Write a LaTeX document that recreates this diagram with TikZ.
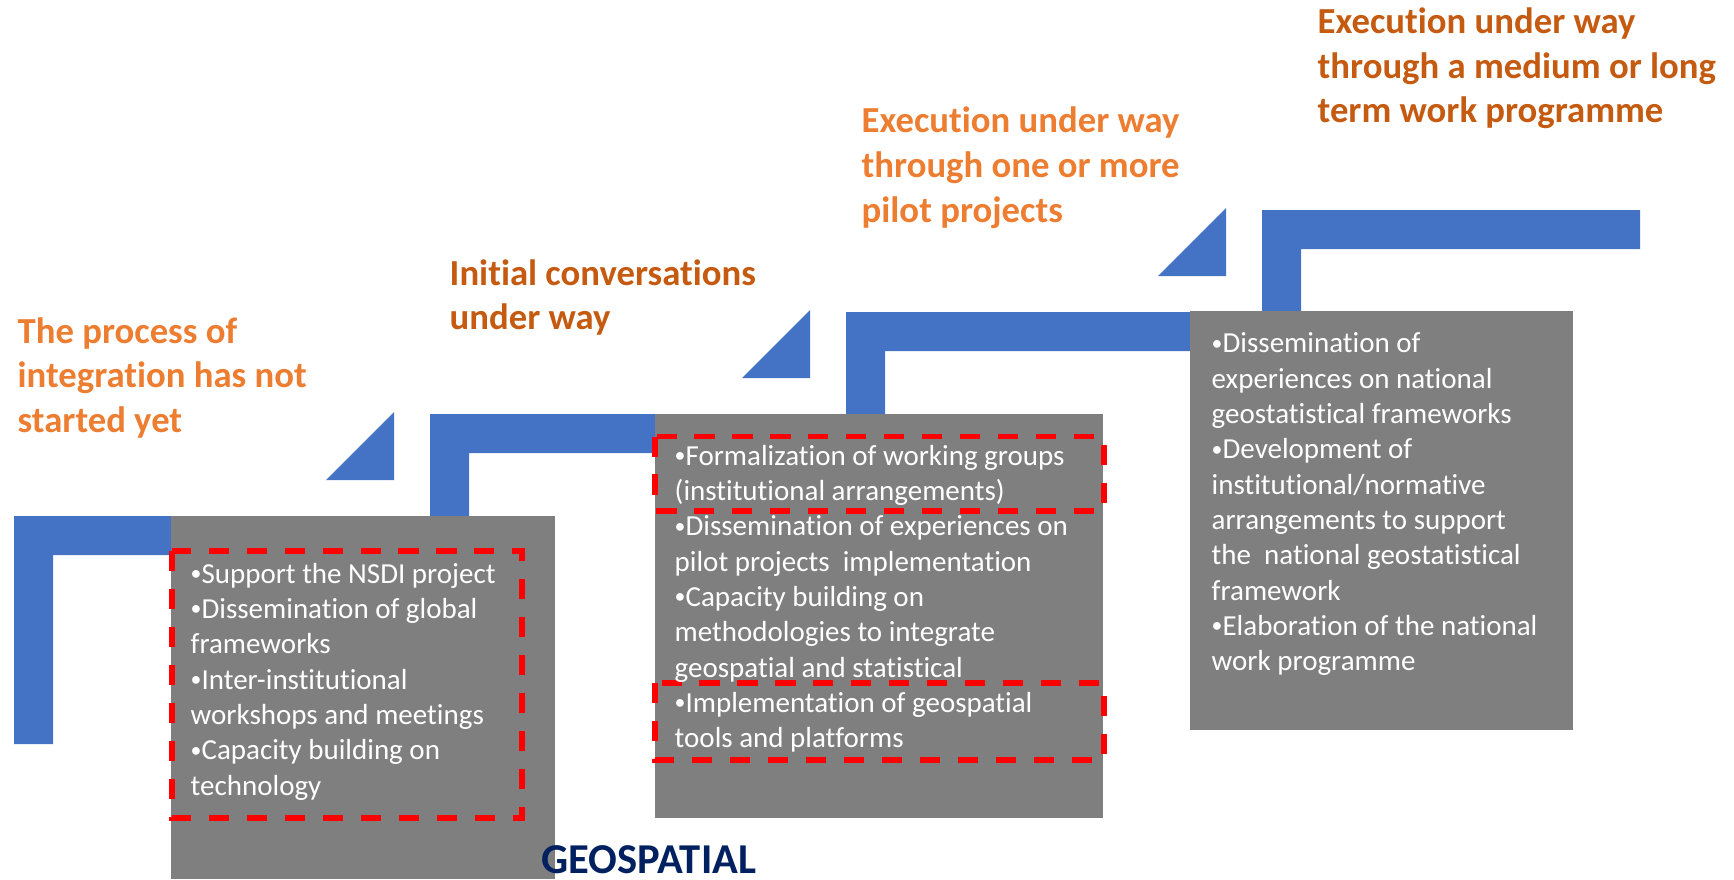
\documentclass[tikz,border=0pt]{standalone}
\usepackage{fontspec}
\setmainfont{Carlito}[Ligatures=NoCommon]
\definecolor{stairblue}{HTML}{4472C4}
\definecolor{panelgrey}{HTML}{7F7F7F}
\definecolor{frame}{HTML}{FF0000}
\definecolor{orangeA}{HTML}{ED7D31}
\definecolor{orangeB}{HTML}{C55A11}
\definecolor{navy}{HTML}{002060}
% rows of text, first row on the node's baseline
\newcommand{\stacklines}[1]{\begin{tabular}[t]{@{}l@{}}#1\end{tabular}}
% small list bullet
\newcommand{\itemdot}{\raisebox{0.7pt}{\fontsize{6.2}{7}\selectfont•}}
\begin{document}
\begin{tikzpicture}[x=0.01cm,y=-0.01cm,
  stair/.style={fill=stairblue},
  panel/.style={fill=panelgrey},
  redframe/.style={draw=frame,line width=1.55pt,dash pattern=on 5.7pt off 5.1pt},
  stage/.style={anchor=base west,inner sep=0pt,font=\fontsize{10.44}{12.7}\selectfont\bfseries},
  itemtext/.style={anchor=base west,inner sep=0pt,text=white,font=\fontsize{8.25}{10.05}\selectfont}]
\useasboundingbox (0,0) rectangle (1734,879);

% staircase
\fill[stair] (14,744) -- (14,516) -- (394,516) -- (394,555) -- (53,555) -- (53,744) -- cycle;
\fill[stair] (430,560) -- (430,414) -- (810,414) -- (810,453) -- (469,453) -- (469,560) -- cycle;
\fill[stair] (846,420) -- (846,312) -- (1226,312) -- (1226,351) -- (885,351) -- (885,420) -- cycle;
\fill[stair] (1262,320) -- (1262,210) -- (1640,210) -- (1640,249) -- (1301,249) -- (1301,320) -- cycle;
% wedges between the steps
\fill[stair] (326,480) -- (394,480) -- (394,412) -- cycle;
\fill[stair] (742,378) -- (810,378) -- (810,310) -- cycle;
\fill[stair] (1158,276) -- (1226,276) -- (1226,208) -- cycle;

% grey panels
\fill[panel] (171,516) rectangle (555,879);
\fill[panel] (655,414) rectangle (1103,818);
\fill[panel] (1190,311) rectangle (1573,730);

% highlighted groups
\draw[redframe] (172,551) rectangle (522,818);
\draw[redframe] (655,436.5) rectangle (1104,511);
\draw[redframe] (655,683) rectangle (1104,760);

% stage titles
\node[stage,text=orangeA] (s1) at (17,343) {\stacklines{The process of\\integration has not\\started yet}};
\node[stage,text=orangeB] (s2) at (449,285) {\stacklines{Initial conversations\\under way}};
\node[stage,text=orangeA] (s3) at (861,133) {\stacklines{Execution under way\\through one or more\\pilot projects}};
\node[stage,text=orangeB] (s4) at (1317,33.5) {\stacklines{Execution under way\\through a medium or long\\term work programme}};

% panel contents
\node[itemtext] (p1) at (190,583) {\stacklines{\itemdot Support the NSDI project\\\itemdot Dissemination of global\\frameworks\\\itemdot Inter-institutional\\workshops and meetings\\\itemdot Capacity building on\\technology}};
\node[itemtext] (p2) at (674,465) {\stacklines{\itemdot Formalization of working groups\\(institutional arrangements)\\\itemdot Dissemination of experiences on\\pilot projects~ implementation\\\itemdot Capacity building on\\methodologies to integrate\\geospatial and statistical\\\itemdot Implementation of geospatial\\tools and platforms}};
\node[itemtext] (p3) at (1211,352.7) {\stacklines{\itemdot Dissemination of\\experiences on national\\geostatistical frameworks\\\itemdot Development of\\institutional/normative\\arrangements to support\\the~ national geostatistical\\framework\\\itemdot Elaboration of the national\\work programme}};

\node[anchor=base west,inner sep=0pt,text=navy,font=\fontsize{12.1}{14}\selectfont\bfseries] (geo) at (541,873) {GEOSPATIAL};
\end{tikzpicture}
\end{document}
